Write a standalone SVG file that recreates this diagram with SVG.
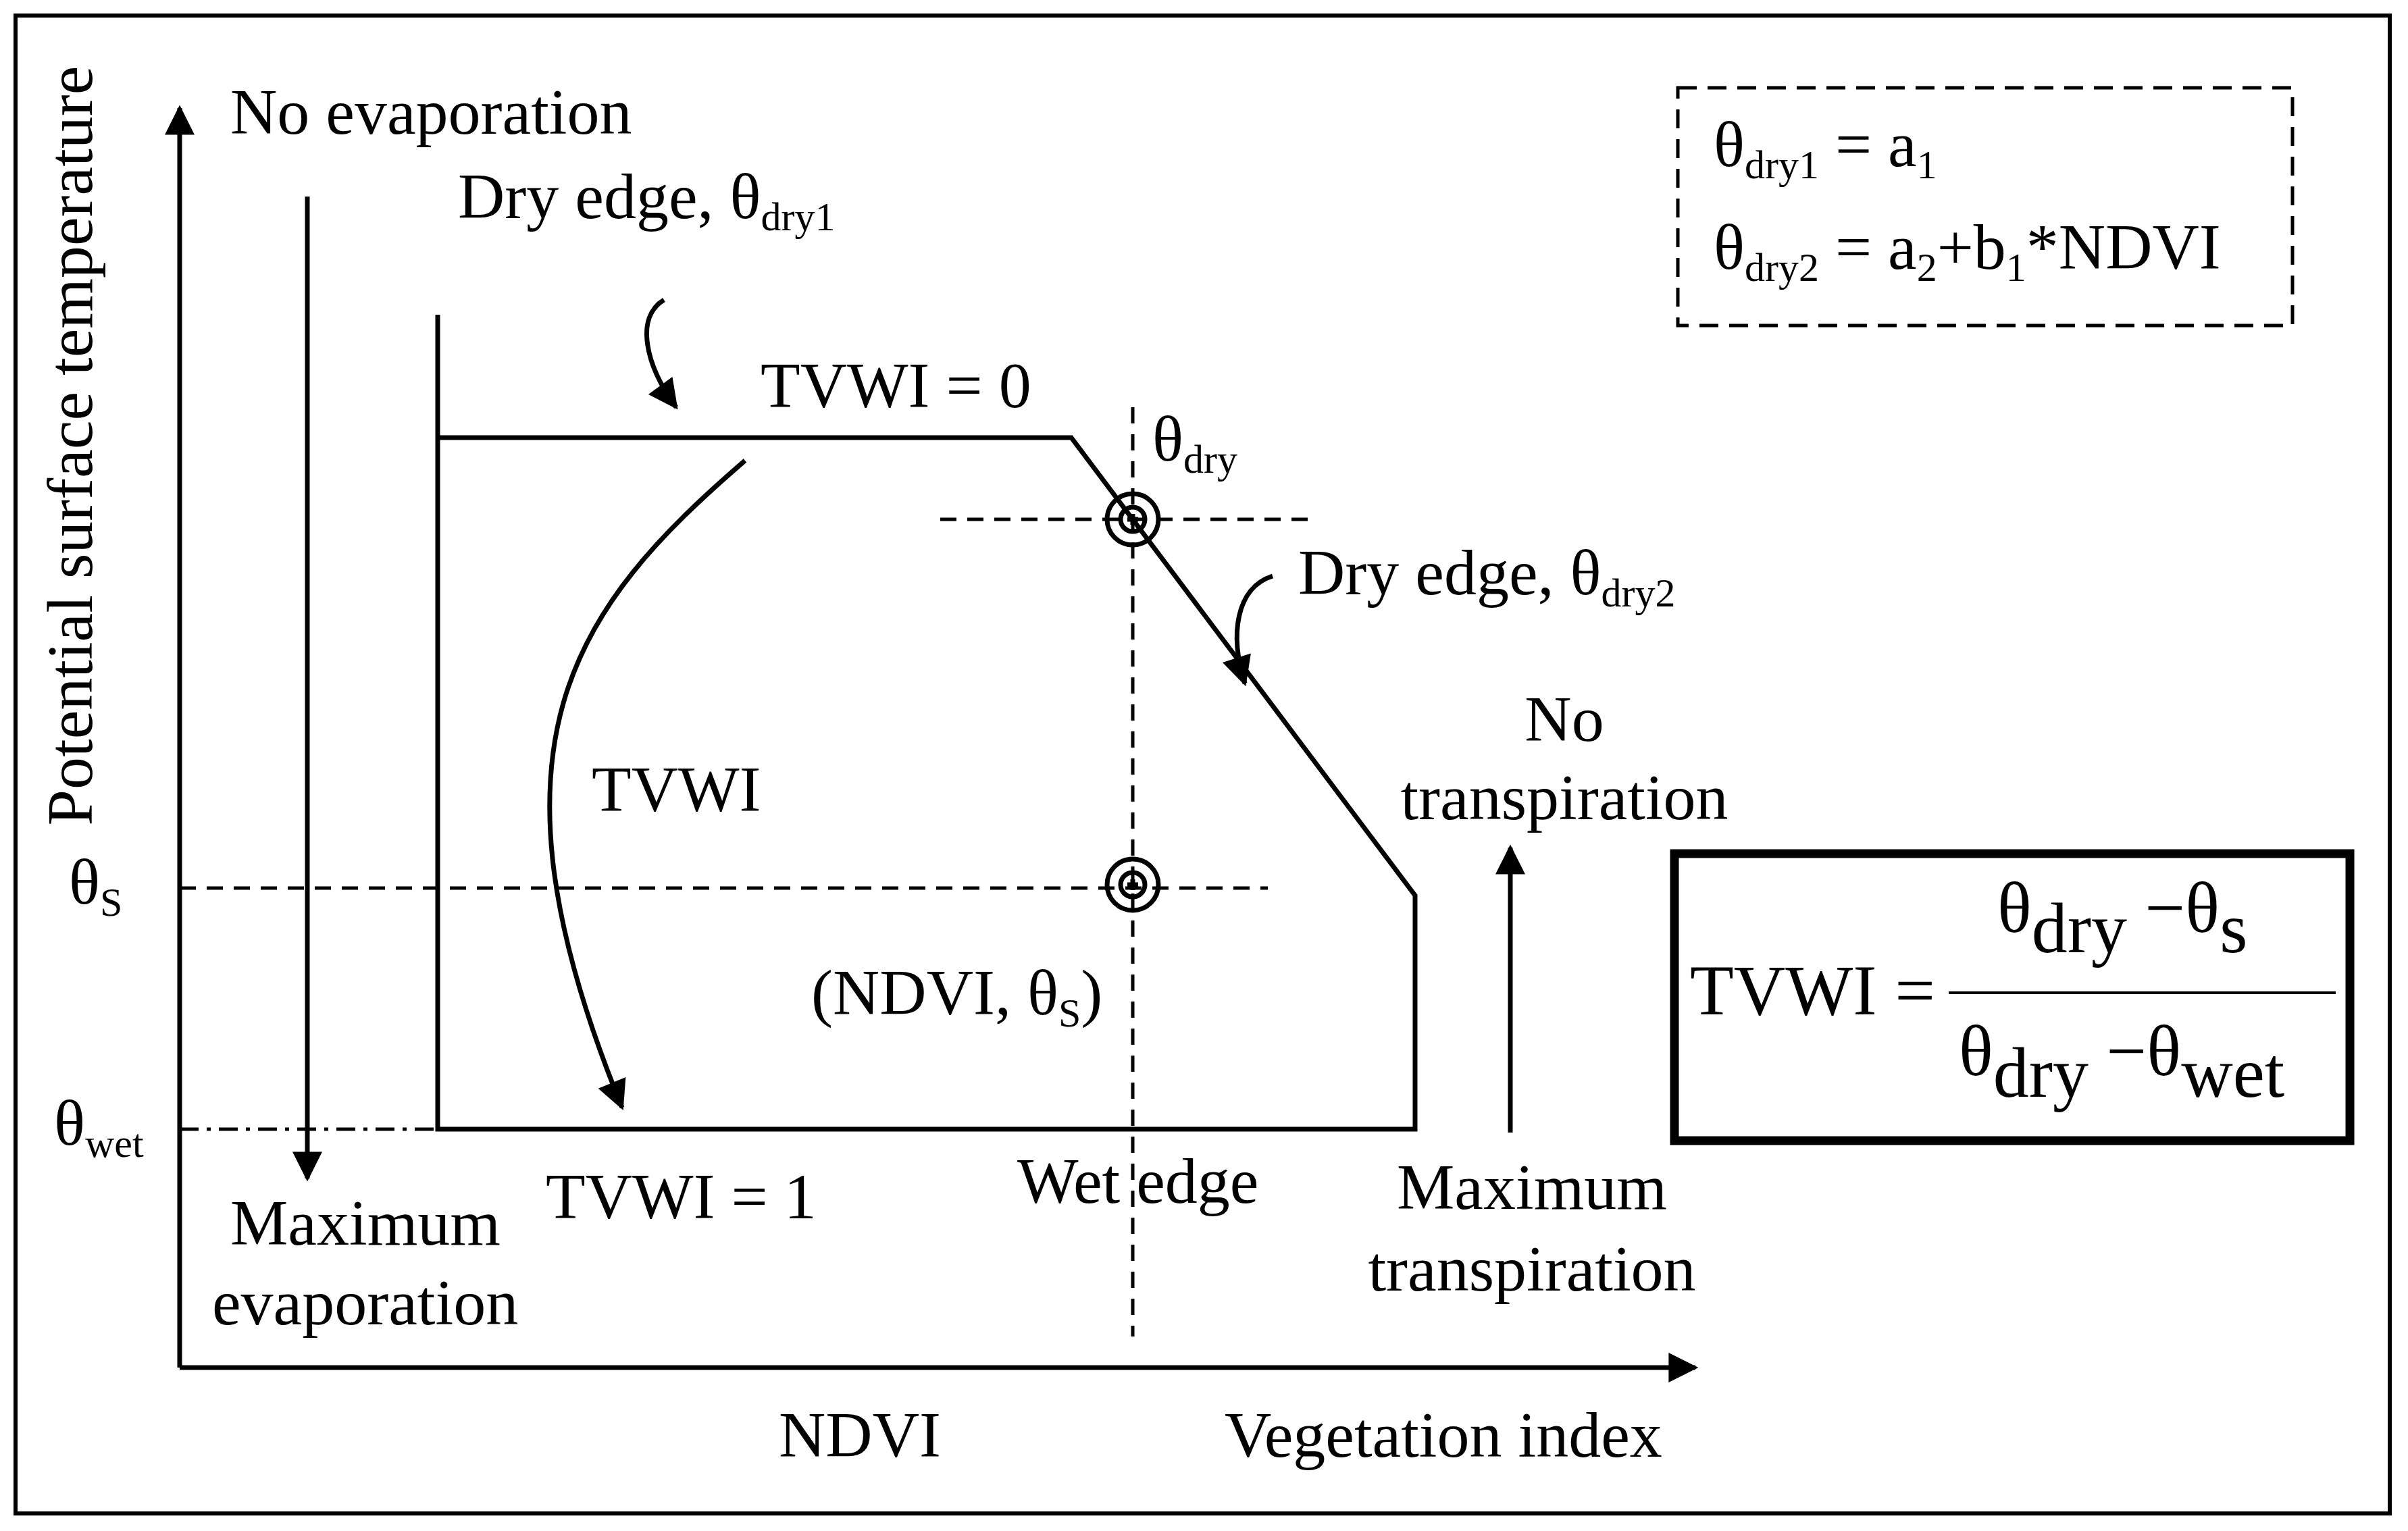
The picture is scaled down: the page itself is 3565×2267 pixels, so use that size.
<svg xmlns="http://www.w3.org/2000/svg" width="3565" height="2267" viewBox="0 0 3565 2267">
<defs>
<marker id="ahb" viewBox="0 0 10 10" refX="9" refY="5" markerWidth="50" markerHeight="44" markerUnits="userSpaceOnUse" orient="auto"><path d="M0,0 L10,5 L0,10 z" fill="#000"/></marker>
</defs>
<style>
text{font-family:"Liberation Serif","Times New Roman",serif;font-size:96px;fill:#000}
.big{font-size:106px}
.l{stroke:#000;stroke-width:7;fill:none}
.d{stroke:#000;stroke-width:5;fill:none;stroke-dasharray:24,16}
</style>
<rect x="23" y="23" width="3515" height="2218" fill="#fff" stroke="#000" stroke-width="6"/>
<g id="connectors">
<path class="l" d="M266,2025 V160" marker-end="url(#ahb)"/>
<path class="l" d="M266,2025 H2510" marker-end="url(#ahb)"/>
<path class="l" d="M455,291 V1745" marker-end="url(#ahb)"/>
<path class="l" d="M2236,1677 V1255" marker-end="url(#ahb)"/>
<path class="l" d="M648,466 V1672 H2095 V1326 L1586,648 H648"/>
<path class="l" d="M983,444 C940,470 955,540 1001,603" marker-end="url(#ahb)"/>
<path class="l" d="M1103,682 C850,900 700,1100 921,1640" marker-end="url(#ahb)"/>
<path class="l" d="M1884,853 C1830,870 1820,940 1843,1012" marker-end="url(#ahb)"/>
<path class="d" d="M1677,603 V1979"/>
<path class="d" d="M1392,769 H1938"/>
<path class="d" d="M266,1315 H1877"/>
<path stroke="#000" stroke-width="5" fill="none" stroke-dasharray="28,12,6,12" d="M266,1672 H648"/>
</g>
<g id="target1"><circle cx="1677" cy="769" r="38" class="l" stroke-width="5"/><circle cx="1677" cy="769" r="18" class="l" stroke-width="5"/><path class="l" stroke-width="3" d="M1669,769 H1685 M1677,761 V777"/></g>
<g id="target2"><circle cx="1677" cy="1310" r="38" class="l" stroke-width="5"/><circle cx="1677" cy="1310" r="18" class="l" stroke-width="5"/><path class="l" stroke-width="3" d="M1669,1310 H1685 M1677,1302 V1318"/></g>
<g id="labels">
<text transform="translate(136,660) rotate(-90)" text-anchor="middle">Potential surface temperature</text>
<text x="341" y="198">No evaporation</text>
<text x="678" y="323">Dry edge, θ<tspan font-size="60" dy="18">dry1</tspan></text>
<text x="1126" y="603">TVWI = 0</text>
<text x="1706" y="682">θ<tspan font-size="60" dy="18">dry</tspan></text>
<text x="1922" y="880">Dry edge, θ<tspan font-size="60" dy="18">dry2</tspan></text>
<text x="2316" y="1097" text-anchor="middle">No</text>
<text x="2316" y="1213" text-anchor="middle">transpiration</text>
<text x="876" y="1201">TVWI</text>
<text x="102" y="1338">θ<tspan font-size="60" dy="18">S</tspan></text>
<text x="1201" y="1502">(NDVI, θ<tspan font-size="60" dy="18">S</tspan><tspan dy="-18">)</tspan></text>
<text x="80" y="1695">θ<tspan font-size="60" dy="18">wet</tspan></text>
<text x="341" y="1843">Maximum</text>
<text x="314" y="1961">evaporation</text>
<text x="808" y="1804">TVWI = 1</text>
<text x="1506" y="1781">Wet edge</text>
<text x="2268" y="1790" text-anchor="middle">Maximum</text>
<text x="2268" y="1911" text-anchor="middle">transpiration</text>
<text x="1153" y="2157">NDVI</text>
<text x="1813" y="2157">Vegetation index</text>
</g>
<g id="eqbox">
<rect x="2484" y="130" width="910" height="352" fill="none" stroke="#000" stroke-width="5" stroke-dasharray="28,16"/>
<text x="2537" y="246">θ<tspan font-size="60" dy="18">dry1</tspan><tspan dy="-18"> = a</tspan><tspan font-size="60" dy="18">1</tspan></text>
<text x="2537" y="398">θ<tspan font-size="60" dy="18">dry2</tspan><tspan dy="-18"> = a</tspan><tspan font-size="60" dy="18">2</tspan><tspan dy="-18">+b</tspan><tspan font-size="60" dy="18">1</tspan><tspan dy="-18">*NDVI</tspan></text>
</g>
<g id="formula">
<rect x="2479" y="1264" width="1000" height="425" fill="none" stroke="#000" stroke-width="13"/>
<text class="big" x="2502" y="1502">TVWI =</text>
<line x1="2885" y1="1470" x2="3458" y2="1470" stroke="#000" stroke-width="4"/>
<text class="big" x="2957" y="1380">θ<tspan dy="30">dry</tspan><tspan dy="-30"> −θ</tspan><tspan dy="30">s</tspan></text>
<text class="big" x="2900" y="1592">θ<tspan dy="32">dry</tspan><tspan dy="-32"> −θ</tspan><tspan dy="32">wet</tspan></text>
</g>
</svg>
